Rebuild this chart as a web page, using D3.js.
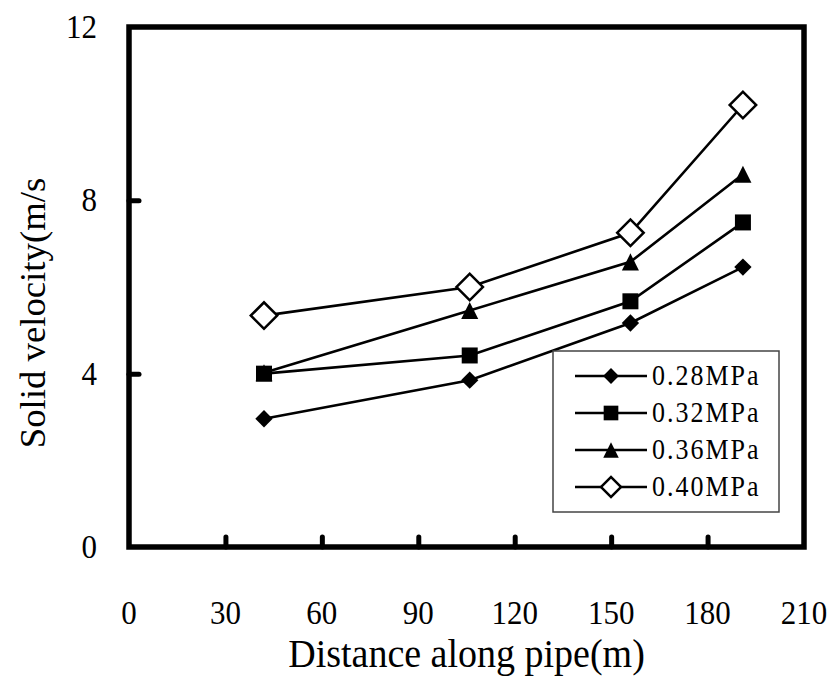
<!DOCTYPE html>
<html><head><meta charset="utf-8">
<script src="https://cdn.jsdelivr.net/npm/d3@7"></script>
<style>body{margin:0;background:#fff}svg{display:block}text{font-family:"Liberation Serif","Times New Roman",serif;fill:#000}</style>
</head><body><svg id="c" width="838" height="680"></svg>
<script>
const distances = [42, 106, 156, 191];
const seriesNames = ["0.28MPa", "0.32MPa", "0.36MPa", "0.40MPa"];
const v028 = [2.96, 3.85, 5.17, 6.46];
const v032 = [4.00, 4.42, 5.67, 7.49];
const v036 = [4.02, 5.46, 6.58, 8.60];
const v040 = [5.34, 6.00, 7.25, 10.20];
const xTicks = [0, 30, 60, 90, 120, 150, 180, 210];
const yTicks = [0, 4, 8, 12];
const allSeries = [v028, v032, v036, v040];

const svg = d3.select("#c");
const L = 129, R = 804, T = 27, B = 547;
const x = d3.scaleLinear().domain([0, 210]).range([L, R]);
const y = d3.scaleLinear().domain([0, 12]).range([B, T]);
const SY = 1.12;

// frame
svg.append("rect").attr("x", L).attr("y", T).attr("width", R - L).attr("height", B - T)
  .attr("fill", "none").attr("stroke", "#000").attr("stroke-width", 5.5);

// x ticks (inward)
const xAxis = d3.axisBottom(x).tickValues(xTicks).tickSize(-10).tickFormat("");
const gx = svg.append("g").attr("transform", `translate(0,${B})`).call(xAxis);
gx.select(".domain").remove();
gx.selectAll(".tick line").attr("stroke", "#000").attr("stroke-width", 5).attr("stroke-linecap", "round");
gx.selectAll(".tick").filter(d => d === 0 || d === 210).select("line").remove();
svg.append("g").selectAll("text").data(xTicks).join("text")
  .attr("transform", d => `translate(${x(d)},624) scale(1,${SY})`)
  .attr("text-anchor", "middle").attr("font-size", 31).text(d => d);

// y ticks (inward)
const yAxis = d3.axisLeft(y).tickValues(yTicks).tickSize(-10).tickFormat("");
const gy = svg.append("g").attr("transform", `translate(${L},0)`).call(yAxis);
gy.select(".domain").remove();
gy.selectAll(".tick line").attr("stroke", "#000").attr("stroke-width", 5).attr("stroke-linecap", "round");
gy.selectAll(".tick").filter(d => d === 0 || d === 12).select("line").remove();
svg.append("g").selectAll("text").data(yTicks).join("text")
  .attr("transform", d => `translate(97,${y(d) + 11}) scale(1,${SY})`)
  .attr("text-anchor", "end").attr("font-size", 31).text(d => d);

// titles
svg.append("text").attr("transform", `translate(${(L + R) / 2},667) scale(1,1.07)`)
  .attr("text-anchor", "middle").attr("font-size", 38).text("Distance along pipe(m)");
svg.append("text").attr("transform", `translate(45,${(T + B) / 2 + 26}) scale(1,1.05) rotate(-90)`)
  .attr("text-anchor", "middle").attr("font-size", 35).text("Solid velocity(m/s");

// symbols
const tri = { draw(ctx, size) { const r = Math.sqrt(size) / 2; ctx.moveTo(0, -r); ctx.lineTo(r, r); ctx.lineTo(-r, r); ctx.closePath(); } };
const styles = [
  { type: d3.symbolSquare, size: 150, rot: 45, fill: "#000", lsize: 125 },
  { type: d3.symbolSquare, size: 256, rot: 0, fill: "#000", lsize: 215 },
  { type: tri, size: 290, rot: 0, fill: "#000", lsize: 240 },
  { type: d3.symbolSquare, size: 350, rot: 45, fill: "#fff", lsize: 200 }
];

const line = d3.line().x((d, i) => x(distances[i])).y(d => y(d));
allSeries.forEach((vals, si) => {
  svg.append("path").datum(vals).attr("d", line).attr("fill", "none")
    .attr("stroke", "#000").attr("stroke-width", 2.6);
});
allSeries.forEach((vals, si) => {
  const st = styles[si];
  svg.append("g").selectAll("path").data(vals).join("path")
    .attr("d", d3.symbol().type(st.type).size(st.size))
    .attr("transform", (d, i) => `translate(${x(distances[i])},${y(d)}) rotate(${st.rot})`)
    .attr("fill", st.fill).attr("stroke", "#000").attr("stroke-width", st.fill === "#fff" ? 2.5 : 0);
});

// legend
const lg = svg.append("g");
lg.append("rect").attr("x", 553).attr("y", 351).attr("width", 226).attr("height", 161)
  .attr("fill", "#fff").attr("stroke", "#444").attr("stroke-width", 1.5);
seriesNames.forEach((name, i) => {
  const cy = 376 + i * 37;
  const st = styles[i];
  lg.append("line").attr("x1", 575).attr("x2", 647).attr("y1", cy).attr("y2", cy)
    .attr("stroke", "#000").attr("stroke-width", 2.6);
  lg.append("path").attr("d", d3.symbol().type(st.type).size(st.lsize)())
    .attr("transform", `translate(611,${cy}) rotate(${st.rot})`)
    .attr("fill", st.fill).attr("stroke", "#000").attr("stroke-width", st.fill === "#fff" ? 2.5 : 0);
  lg.append("text").attr("transform", `translate(652,${cy + 9}) scale(1,${SY})`)
    .attr("font-size", 26).attr("letter-spacing", 2).text(name);
});
</script></body></html>
